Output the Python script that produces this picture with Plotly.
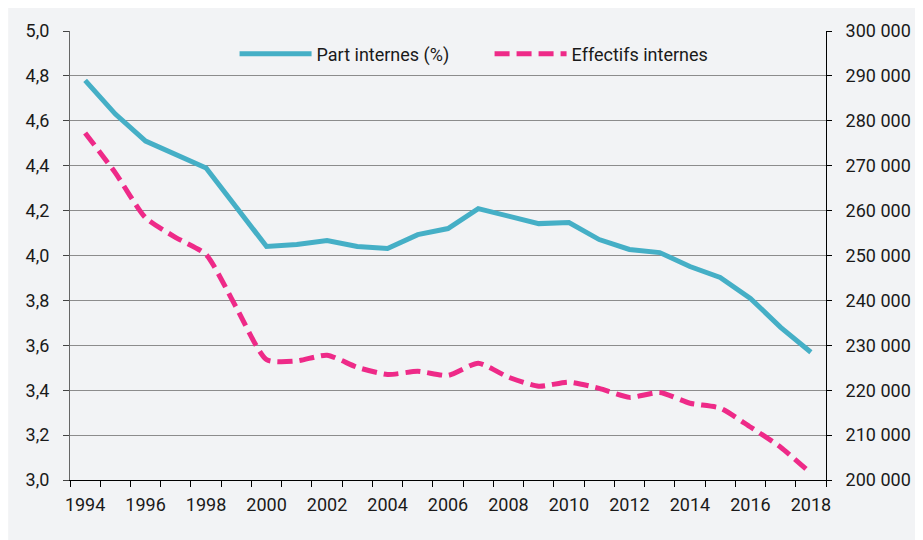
import plotly.graph_objects as go

years = list(range(1994, 2019))
part_internes = [4.78, 4.63, 4.51, 4.45, 4.39, 4.215, 4.04, 4.049, 4.067, 4.04, 4.031,
                 4.093, 4.12, 4.209, 4.173, 4.142, 4.147, 4.071, 4.027, 4.013, 3.951,
                 3.902, 3.809, 3.68, 3.569]
effectifs_internes = [277300, 268400, 258400, 254000, 250200, 238400, 226800, 226500,
                      227800, 225100, 223500, 224200, 223300, 226000, 222900, 220900,
                      221800, 220400, 218400, 219500, 217100, 216000, 211800, 207300, 201500]
left_ticks = [3.0, 3.2, 3.4, 3.6, 3.8, 4.0, 4.2, 4.4, 4.6, 4.8, 5.0]
right_ticks = list(range(200000, 300001, 10000))
x_labels = list(range(1994, 2019, 2))

# page has an 8px body margin; figure is offset by it
OFF = 8
W, H = 923 - OFF, 540 - OFF
L, T = 70 - OFF, 30 - OFF
pw, ph = 758, 450
R = W - L - pw
B = H - T - ph

def px_x(sx):
    return (sx - OFF - L) / pw

def px_y(sy):
    return (T + ph - (sy - OFF)) / ph

teal = "#45AFC6"
pink = "#EE2A88"
font = "Roboto"

fig = go.Figure()
fig.add_trace(go.Scatter(
    x=years, y=part_internes, name="Part internes (%)", mode="lines",
    line=dict(color=teal, width=5), yaxis="y"))
fig.add_trace(go.Scatter(
    x=years, y=effectifs_internes, name="Effectifs internes", mode="lines",
    line=dict(color=pink, width=5, dash="15px,7px", shape="spline", smoothing=0.6),
    yaxis="y2"))

shapes = [
    dict(type="rect", xref="paper", yref="paper", x0=px_x(8), x1=px_x(919),
         y0=px_y(545), y1=px_y(5), fillcolor="#F2F3F5", line=dict(width=0), layer="below"),
]

fig.update_layout(
    width=W, height=H,
    margin=dict(l=L, r=R, t=T, b=B, pad=0),
    paper_bgcolor="white", plot_bgcolor="rgba(0,0,0,0)",
    separators=", ",
    font=dict(family=font, size=18, color="#1a1a1a"),
    shapes=shapes,
    showlegend=True,
    legend=dict(orientation="h", x=px_x(235), xanchor="left", y=px_y(53), yanchor="middle",
                bgcolor="rgba(0,0,0,0)", font=dict(size=18, family=font),
                itemwidth=72, tracegroupgap=0, entrywidth=168),
    xaxis=dict(range=[1993.5, 2018.5], tickvals=x_labels, ticktext=[str(v) for v in x_labels],
               ticks="", showgrid=False, zeroline=False,
               showline=True, linecolor="black", linewidth=1,
               ticklabelstandoff=8,
               minor=dict(tick0=1993.5, dtick=1, ticks="outside", ticklen=6,
                          tickcolor="black", tickwidth=1, showgrid=False)),
    yaxis=dict(range=[3.0, 5.0], tickvals=left_ticks, tickformat=".1f",
               ticks="outside", ticklen=6, tickcolor="#444", tickwidth=1,
               showgrid=True, gridcolor="#8C8C8C", gridwidth=1, zeroline=False,
               showline=True, linecolor="#666", linewidth=1, ticklabelstandoff=10),
    yaxis2=dict(range=[200000, 300000], tickvals=right_ticks, tickformat=",d",
                overlaying="y", side="right", ticks="outside", ticklen=5,
                tickcolor="black", tickwidth=1, showgrid=False, zeroline=False,
                showline=True, linecolor="black", linewidth=1, ticklabelstandoff=10),
)

fig.write_html("out.html")
